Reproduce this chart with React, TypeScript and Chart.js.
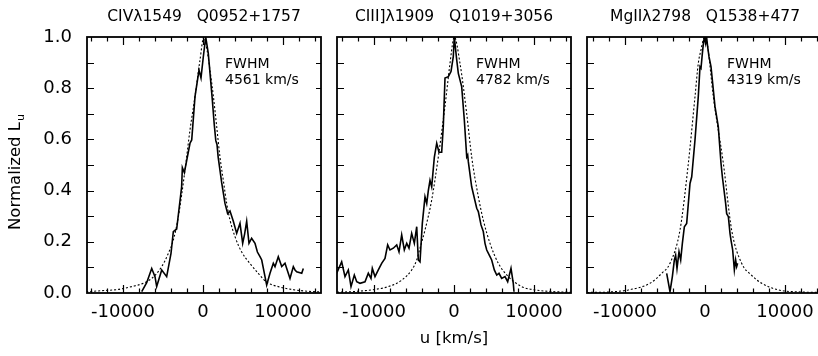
import React, { useEffect, useRef } from "react";
import { Chart, registerables } from "chart.js";

Chart.register(...registerables);

const FONT = "'DejaVu Sans', sans-serif";

// ---------------- data ----------------
const civVel = [-7660, -7040, -6410, -6000, -5790, -5160, -4540, -4000, -3710, -3290, -2670, -2580, -2330, -1625, -1410, -1000, -500, -250, 40, 340, 660, 900, 1150, 1400, 1600, 1750, 1900, 2340, 2750, 3080, 3375, 3790, 4210, 4625, 4960, 5200, 5460, 5750, 6080, 6500, 6800, 7125, 7340, 7960, 8375, 8790, 9000, 9410, 9840, 10250, 10875, 11290, 11500, 11710, 12340, 12540];
const civFlux = [0.005, 0.04, 0.096, 0.064, 0.025, 0.09, 0.064, 0.155, 0.24, 0.25, 0.415, 0.49, 0.47, 0.585, 0.598, 0.767, 0.871, 0.84, 0.923, 1.0, 0.936, 0.85, 0.76, 0.66, 0.595, 0.58, 0.53, 0.43, 0.35, 0.31, 0.32, 0.28, 0.233, 0.272, 0.194, 0.23, 0.28, 0.194, 0.214, 0.194, 0.16, 0.142, 0.129, 0.031, 0.077, 0.116, 0.103, 0.142, 0.103, 0.116, 0.057, 0.103, 0.09, 0.083, 0.077, 0.096];
const civFitVel = [-14600, -12660, -10580, -8910, -7460, -6410, -5160, -4330, -3710, -3085, -2250, -1625, -1000, -375, 100, 500, 875, 1290, 1710, 2125, 2540, 2960, 3375, 4000, 4840, 5875, 6910, 7960, 9410, 11500, 14000, 14750];
const civFit = [0.005, 0.009, 0.014, 0.025, 0.038, 0.057, 0.103, 0.155, 0.207, 0.298, 0.48, 0.637, 0.767, 0.91, 1.0, 0.95, 0.87, 0.77, 0.65, 0.53, 0.44, 0.35, 0.285, 0.22, 0.16, 0.115, 0.077, 0.042, 0.025, 0.012, 0.005, 0.004];

const ciiiVel = [-14660, -14040, -13625, -13210, -12875, -12460, -12160, -11750, -11125, -10710, -10375, -10210, -9875, -9460, -9040, -8625, -8290, -8000, -7590, -7160, -6875, -6540, -6210, -5910, -5625, -5290, -4960, -4660, -4460, -4250, -3960, -3625, -3410, -3210, -3000, -2790, -2460, -2160, -1875, -1540, -1340, -1125, -710, -375, -90, 40, 340, 540, 960, 1290, 1590, 1710, 1790, 2210, 2840, 3040, 3375, 3660, 3875, 4090, 4410, 4710, 5040, 5340, 5625, 5960, 6375, 6710, 7125, 7410, 7500];
const ciiiFlux = [0.077, 0.122, 0.064, 0.09, 0.025, 0.07, 0.044, 0.038, 0.044, 0.077, 0.057, 0.096, 0.064, 0.09, 0.116, 0.135, 0.188, 0.168, 0.175, 0.188, 0.161, 0.227, 0.168, 0.194, 0.175, 0.233, 0.194, 0.259, 0.129, 0.122, 0.272, 0.376, 0.35, 0.4, 0.44, 0.415, 0.53, 0.585, 0.55, 0.55, 0.65, 0.84, 0.845, 0.865, 0.923, 1.0, 0.91, 0.858, 0.806, 0.676, 0.532, 0.539, 0.513, 0.415, 0.331, 0.318, 0.266, 0.24, 0.194, 0.168, 0.148, 0.129, 0.09, 0.07, 0.077, 0.057, 0.064, 0.044, 0.096, 0.038, 0.005];
const ciiiFitVel = [-14625, -12375, -9875, -8210, -6540, -5290, -4660, -4250, -3625, -2790, -1960, -1125, -500, -90, 40, 750, 1590, 2210, 3040, 3660, 4500, 5540, 6790, 8460, 10125, 13460, 14625];
const ciiiFit = [0.003, 0.006, 0.014, 0.025, 0.05, 0.09, 0.129, 0.175, 0.246, 0.363, 0.532, 0.73, 0.897, 0.99, 1.0, 0.897, 0.7, 0.532, 0.376, 0.285, 0.194, 0.116, 0.064, 0.025, 0.012, 0.004, 0.003];

const mgiiVel = [-4790, -4375, -4080, -3830, -3670, -3500, -3250, -3040, -2830, -2580, -2290, -1875, -1660, -1250, -840, -625, -500, -330, -200, -80, 80, 200, 330, 500, 750, 1250, 1660, 2000, 2170, 2580, 2710, 2920, 3125, 3250, 3460, 3670, 3830, 3960, 4080];
const mgiiFlux = [0.077, 0.005, 0.064, 0.129, 0.148, 0.096, 0.161, 0.129, 0.194, 0.259, 0.272, 0.428, 0.454, 0.598, 0.767, 0.884, 0.878, 0.936, 0.975, 1.0, 0.975, 1.0, 0.962, 0.923, 0.884, 0.728, 0.65, 0.507, 0.454, 0.35, 0.31, 0.298, 0.233, 0.207, 0.168, 0.09, 0.129, 0.103, 0.116];
const mgiiFitVel = [-14750, -12000, -9580, -6875, -5410, -4375, -3125, -2080, -1250, -840, -500, -210, 0, 300, 1040, 2290, 3330, 4580, 5800, 7080, 9170, 12000, 14750];
const mgiiFit = [0.002, 0.004, 0.012, 0.038, 0.077, 0.116, 0.246, 0.507, 0.767, 0.897, 0.95, 0.99, 1.0, 0.97, 0.767, 0.507, 0.246, 0.116, 0.07, 0.038, 0.012, 0.004, 0.002];

const panelTitles = ["CIVλ1549   Q0952+1757", "CIII]λ1909   Q1019+3056", "MgIIλ2798   Q1538+477"];
const fwhmLabel = "FWHM";
const fwhmValues = ["4561 km/s", "4782 km/s", "4319 km/s"];
const xTickValues = [-10000, 0, 10000];
const yTickValues = [0, 0.2, 0.4, 0.6, 0.8, 1.0];
const xTitle = "u [km/s]";
const yTitleMain = "Normalized L";
const yTitleSub = "u";

// ---------------- layout (styles) ----------------
const panels = [
  { left: 0, width: 330, padL: 0, padR: 9, min: -14500, max: 14750, showY: true, showXTitle: false, vel: civVel, flux: civFlux, fitVel: civFitVel, fit: civFit },
  { left: 330, width: 250, padL: 7, padR: 9, min: -14625, max: 14625, showY: false, showXTitle: true, vel: ciiiVel, flux: ciiiFlux, fitVel: ciiiFitVel, fit: ciiiFit },
  { left: 580, width: 250, padL: 7, padR: 7, min: -14750, max: 14750, showY: false, showXTitle: false, vel: mgiiVel, flux: mgiiFlux, fitVel: mgiiFitVel, fit: mgiiFit },
];

const framePlugin = {
  id: "frame",
  afterDraw(chart: any, _args: any, opts: any) {
    const { ctx, chartArea: a, scales } = chart;
    const xs = scales.x;
    const ys = scales.y;
    ctx.save();
    ctx.strokeStyle = "#000";
    ctx.lineWidth = 1.2;
    ctx.beginPath();
    for (let v = -14000; v <= 14000; v += 2000) {
      const px = Math.round(xs.getPixelForValue(v)) + 0.5;
      if (px < a.left || px > a.right) continue;
      const len = v % 10000 === 0 ? 8 : 4.5;
      ctx.moveTo(px, a.bottom);
      ctx.lineTo(px, a.bottom - len);
      ctx.moveTo(px, a.top);
      ctx.lineTo(px, a.top + len);
    }
    for (let i = 1; i < 10; i++) {
      const py = Math.round(ys.getPixelForValue(i / 10)) + 0.5;
      ctx.moveTo(a.left, py);
      ctx.lineTo(a.left + 7, py);
      ctx.moveTo(a.right, py);
      ctx.lineTo(a.right - 5, py);
    }
    ctx.stroke();
    ctx.lineWidth = 1.8;
    ctx.strokeRect(a.left, a.top, a.right - a.left, a.bottom - a.top);

    ctx.fillStyle = "#000";
    ctx.font = `14px ${FONT}`;
    ctx.textAlign = "left";
    ctx.textBaseline = "alphabetic";
    const tx = xs.getPixelForValue(3000) - 2;
    ctx.fillText(fwhmLabel, tx, a.top + 30.5);
    ctx.fillText(opts.fwhm, tx, a.top + 47);

    if (opts.yTitle) {
      const cy = (a.top + a.bottom) / 2 + 7;
      ctx.font = `16.5px ${FONT}`;
      const w = ctx.measureText(yTitleMain).width;
      ctx.font = `11px ${FONT}`;
      const ws = ctx.measureText(yTitleSub).width;
      const total = w + ws + 1;
      ctx.translate(16, cy + total / 2);
      ctx.rotate(-Math.PI / 2);
      ctx.textBaseline = "middle";
      ctx.font = `16.5px ${FONT}`;
      ctx.fillText(yTitleMain, 0, 0);
      ctx.font = `11px ${FONT}`;
      ctx.fillText(yTitleSub, w + 1, 5);
    }
    ctx.restore();
  },
};

function Panel({ idx }: { idx: number }) {
  const ref = useRef<HTMLCanvasElement>(null);
  const p = panels[idx];
  useEffect(() => {
    if (!ref.current) return;
    const solid = p.vel.map((v, i) => ({ x: v, y: p.flux[i] }));
    const fit = p.fitVel.map((v, i) => ({ x: v, y: p.fit[i] }));
    const yScale: any = {
      type: "linear",
      min: 0,
      max: 1,
      display: p.showY,
      grid: { display: false, drawTicks: false },
      border: { display: false },
      afterBuildTicks: (s: any) => {
        s.ticks = yTickValues.map((v) => ({ value: v }));
      },
      ticks: {
        color: "#000",
        font: { family: FONT, size: 18 },
        padding: 15,
        callback: (v: any) => Number(v).toFixed(1),
      },
    };
    if (p.showY) {
      yScale.afterFit = (s: any) => {
        s.width = 87;
      };
    }
    const chart = new Chart(ref.current, {
      type: "line",
      data: {
        datasets: [
          { data: fit, borderColor: "#000", borderWidth: 1.1, borderDash: [2, 2], pointRadius: 0, fill: false, cubicInterpolationMode: "monotone" },
          { data: solid, borderColor: "#000", borderWidth: 1.6, pointRadius: 0, fill: false, tension: 0 },
        ],
      },
      options: {
        animation: false,
        responsive: false,
        devicePixelRatio: 1,
        layout: { padding: { left: p.padL, right: p.padR, top: 0, bottom: 0 } },
        plugins: {
          legend: { display: false },
          tooltip: { enabled: false },
          title: {
            display: true,
            fullSize: false,
            text: panelTitles[idx],
            color: "#000",
            font: { family: FONT, size: 15.5, weight: "normal" },
            padding: { top: 8, bottom: 10.4 },
          },
          frame: { fwhm: fwhmValues[idx], yTitle: p.showY },
        } as any,
        scales: {
          x: {
            type: "linear",
            min: p.min,
            max: p.max,
            grid: { display: false, drawTicks: false },
            border: { display: false },
            afterBuildTicks: (s: any) => {
              s.ticks = xTickValues.map((v) => ({ value: v }));
            },
            ticks: {
              color: "#000",
              font: { family: FONT, size: 18 },
              padding: 9,
              maxRotation: 0,
              autoSkip: false,
              callback: (v: any) => String(v),
            },
            title: {
              display: p.showXTitle,
              text: xTitle,
              color: "#000",
              font: { family: FONT, size: 16.5 },
              padding: { top: 0, bottom: 7 },
            },
            afterFit: (s: any) => {
              s.height = 63;
            },
          },
          y: yScale,
        },
      } as any,
      plugins: [framePlugin],
    });
    return () => chart.destroy();
  }, []);
  return (
    <canvas
      ref={ref}
      width={p.width}
      height={356}
      style={{ position: "absolute", left: p.left, top: 0, width: p.width, height: 356 }}
    />
  );
}

export default function App() {
  return (
    <div style={{ position: "fixed", left: 0, top: 0, width: 818, height: 356, overflow: "hidden", background: "#fff" }}>
      <Panel idx={0} />
      <Panel idx={1} />
      <Panel idx={2} />
    </div>
  );
}
